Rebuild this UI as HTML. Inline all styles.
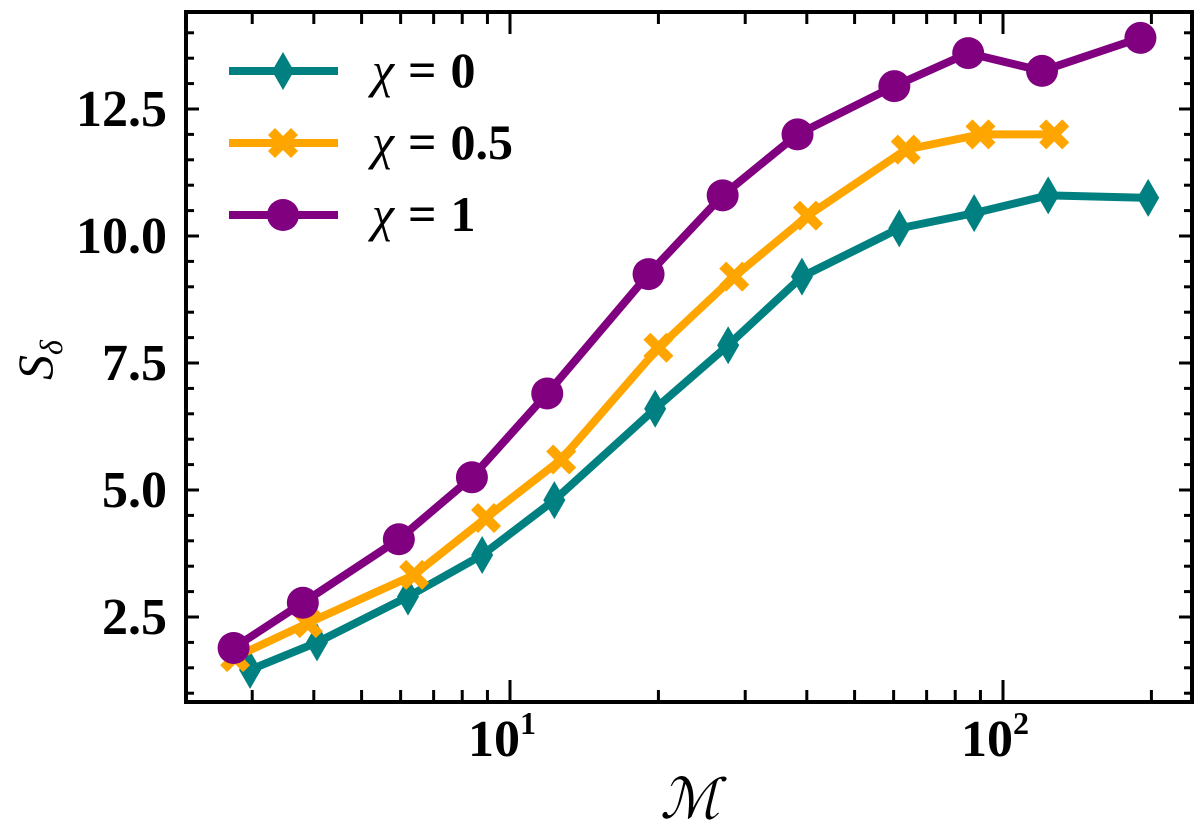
<!DOCTYPE html>
<html><head><meta charset="utf-8"><style>
html,body{margin:0;padding:0;background:#fff;}
svg{display:block;font-family:"Liberation Serif",serif;font-weight:bold;}
</style></head><body>
<svg id="chart" width="1200" height="828" viewBox="0 0 1200 828">
<g id="marks"></g>
<g id="axes"></g>
</svg>
<script>
const seriesNames=["χ = 0","χ = 0.5","χ = 1"];
const mTeal=[2.97,4.06,6.21,8.78,12.3,19.7,27.7,39.1,61.6,87.4,123.5,197];
const sTeal=[1.46,2.0,2.9,3.72,4.8,6.6,7.85,9.2,10.15,10.45,10.8,10.75];
const mOrange=[2.77,3.89,6.39,8.94,12.7,20.0,28.5,40.2,63.5,90.0,127];
const sOrange=[1.71,2.38,3.33,4.45,5.6,7.8,9.2,10.4,11.7,12.0,12.0];
const mPurple=[2.75,3.80,5.95,8.37,11.9,19.1,27.0,38.3,60.2,85.0,120,190];
const sPurple=[1.89,2.78,4.03,5.25,6.9,9.25,10.8,12.0,12.95,13.6,13.25,13.9];
const yTicks=[2.5,5.0,7.5,10.0,12.5];
const yTickLabels=["2.5","5.0","7.5","10.0","12.5"];
const xMajor=[10,100];

const L=186,R=1192,T=12,B=702;
const X=m=>510+493*(Math.log10(m)-1);
const Y=v=>617-(v-2.5)*50.8;
const NS="http://www.w3.org/2000/svg";
function mk(tag,attrs,parent){const e=document.createElementNS(NS,tag);for(const k in attrs)e.setAttribute(k,attrs[k]);parent.appendChild(e);return e;}
const marks=document.getElementById('marks'),axes=document.getElementById('axes');

function marker(type,cx,cy,color,parent){
  let e;
  if(type==='d'){e=mk('polygon',{points:`${cx},${cy-19} ${cx+11},${cy} ${cx},${cy+19} ${cx-11},${cy}`,fill:color},parent);}
  else if(type==='x'){const s=15,w=7;e=mk('polygon',{points:`${cx-s},${cy-s+w} ${cx-s+w},${cy-s} ${cx},${cy-w} ${cx+s-w},${cy-s} ${cx+s},${cy-s+w} ${cx+w},${cy} ${cx+s},${cy+s-w} ${cx+s-w},${cy+s} ${cx},${cy+w} ${cx-s+w},${cy+s} ${cx-s},${cy+s-w} ${cx-w},${cy}`,fill:color},parent);}
  else {e=mk('circle',{cx:cx,cy:cy,r:16,fill:color},parent);}
  return e;
}
const series=[[mTeal,sTeal,'#008080','d','teal'],[mOrange,sOrange,'#FFA500','x','orange'],[mPurple,sPurple,'#800080','o','purple']];
series.forEach(([ms,ss,c,t,n],si)=>{
  const g=mk('g',{},marks);
  
  
  const pl=mk('polyline',{points:ms.map((m,i)=>X(m)+','+Y(ss[i])).join(' '),fill:'none',stroke:c,'stroke-width':8,'stroke-linejoin':'round'},g);
  
  
  ms.forEach((m,i)=>{const e=marker(t,X(m),Y(ss[i]),c,g);
    
    });
});
// legend
const lg=mk('g',{},marks);


series.forEach(([ms,ss,c,t,n],i)=>{
  const y=71+i*72;
  const e=mk('g',{},lg);
  
  
  mk('line',{x1:229,x2:338,y1:y,y2:y,stroke:c,'stroke-width':8},e);
  marker(t,283,y,c,e);
  const tx=mk('text',{x:372,y:y+16,'font-size':50,'font-weight':'normal'},e);
  tx.innerHTML='<tspan font-style="italic">χ</tspan><tspan font-weight="bold" dx="14">=</tspan><tspan font-weight="bold" dx="14">'+seriesNames[i].split('= ')[1]+'</tspan>';
});
// frame
const fr=mk('rect',{x:L,y:T,width:R-L,height:B-T,fill:'none',stroke:'#000','stroke-width':4},axes);


// y ticks
for(let v=1.0;v<=14.3;v+=0.5){
  const y=Y(v);if(y<T+2||y>B-2)continue;
  const maj=Math.abs((v/2.5)-Math.round(v/2.5))<1e-6;const len=maj?13:8;
  mk('line',{x1:L,x2:L+len,y1:y,y2:y,stroke:'#000','stroke-width':3},axes);
  mk('line',{x1:R,x2:R-len,y1:y,y2:y,stroke:'#000','stroke-width':3},axes);
}
yTicks.forEach((v,i)=>{const t=mk('text',{x:167,y:Y(v)+17,'text-anchor':'end','font-size':52},axes);t.textContent=yTickLabels[i];
  
  });
// x ticks
for(let d=1;d<=100;d*=10){for(let k=1;k<10;k++){const m=k*d;const x=X(m);if(x<L+2||x>R-2)continue;const len=k===1?22:12;
  mk('line',{x1:x,x2:x,y1:B,y2:B-len,stroke:'#000','stroke-width':3},axes);
  mk('line',{x1:x,x2:x,y1:T,y2:T+len,stroke:'#000','stroke-width':3},axes);}}
xMajor.forEach(m=>{const t=mk('text',{x:X(m)-8,y:756,'text-anchor':'middle','font-size':52},axes);
  t.innerHTML='10<tspan dy="-22" font-size="32">'+Math.round(Math.log10(m))+'</tspan>';
  
  });
const xl=mk('text',{x:690,y:818,'text-anchor':'middle','font-size':56,'font-style':'italic','font-weight':'normal'},axes);
xl.textContent='ℳ';


const yl=mk('text',{x:0,y:0,'text-anchor':'middle','font-size':50,'font-style':'italic','font-weight':'normal',transform:'translate(52,360) rotate(-90)'},axes);
yl.innerHTML='S<tspan dy="10" font-size="32">δ</tspan>';


</script>
</body></html>
